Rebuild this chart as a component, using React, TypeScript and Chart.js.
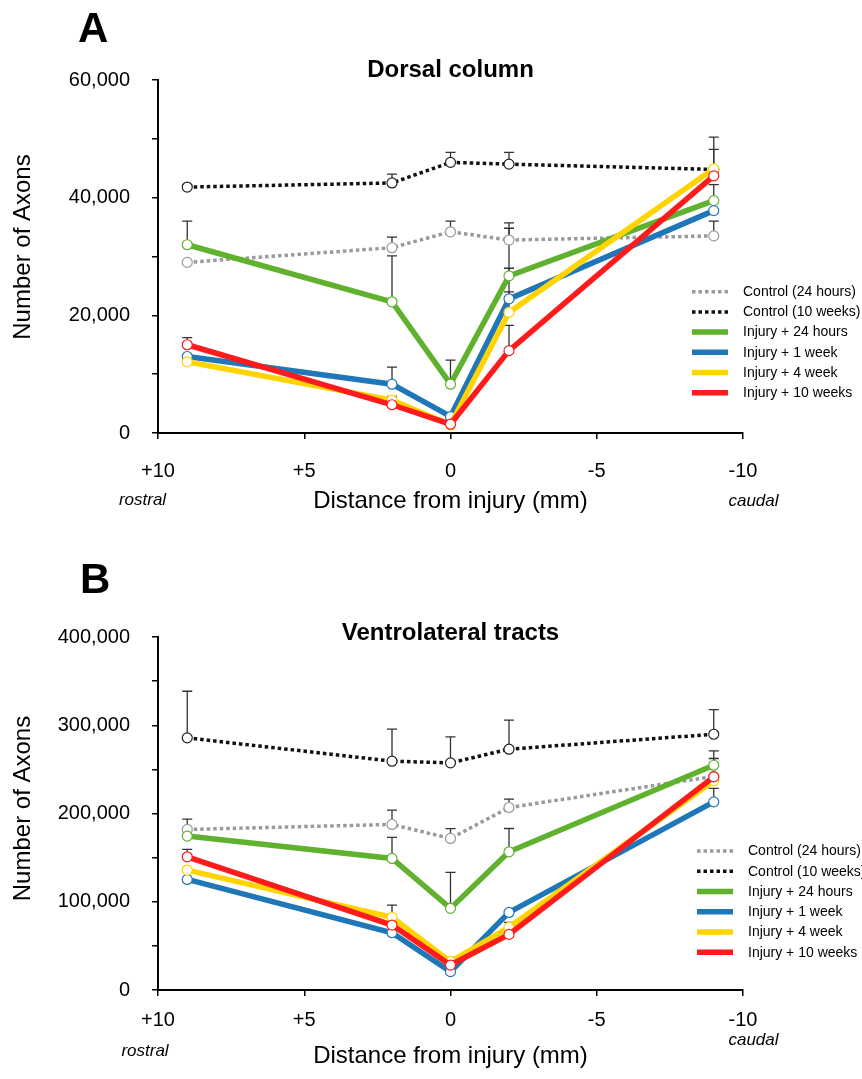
import React, { useEffect, useRef } from 'react';
import { Chart, registerables } from 'chart.js';

Chart.register(...registerables);

// ---------- data ----------
const distances = [9, 2, 0, -2, -9];
const seriesLabels = [
  'Control (24 hours)',
  'Control (10 weeks)',
  'Injury + 24 hours',
  'Injury + 1 week',
  'Injury + 4 week',
  'Injury + 10 weeks',
];
const xTickValues = [10, 5, 0, -5, -10];

// Panel A – Dorsal column (means)
const ctrl24A = [29000, 31500, 34200, 32800, 33500];
const ctrl10A = [41800, 42500, 46000, 45700, 44800];
const inj24hA = [32000, 22300, 8300, 26700, 39500];
const inj1wA = [13000, 8300, 2800, 22800, 37800];
const inj4wA = [12100, 5600, 1400, 20500, 44900];
const inj10wA = [15000, 4800, 1500, 14000, 43700];
// Panel A – SEM (upper error bars)
const ctrl24ErrA = [null, 1800, 1800, 2900, 2500];
const ctrl10ErrA = [400, 1500, 1700, 2000, 3400];
const inj24hErrA = [4000, 7800, 4100, 8100, 2700];
const inj1wErrA = [null, 2900, null, 5200, null];
const inj4wErrA = [null, 600, null, 3500, 5400];
const inj10wErrA = [1200, null, null, 4300, null];

// Panel B – Ventrolateral tracts (means)
const ctrl24B = [181900, 187600, 171700, 206800, 242000];
const ctrl10B = [285700, 259300, 257400, 272900, 289800];
const inj24hB = [174400, 149100, 92500, 156600, 254700];
const inj1wB = [125300, 64900, 20800, 87900, 213200];
const inj4wB = [135900, 82300, 32100, 71000, 237000];
const inj10wB = [150900, 73600, 28300, 63000, 241500];
// Panel B – SEM (upper error bars)
const ctrl24ErrB = [11700, 16200, 11200, 9500, 20300];
const ctrl10ErrB = [52800, 36200, 29400, 32800, 28000];
const inj24hErrB = [null, 23800, 40700, 26400, 16200];
const inj1wErrB = [null, null, null, null, 15200];
const inj4wErrB = [null, 13900, 4900, 5600, null];
const inj10wErrB = [8400, null, null, null, null];

// ---------- styles ----------
const FONT = "'Liberation Sans', Arial, Helvetica, sans-serif";
const seriesColors = ['#9a9a9a', '#111111', '#5fb12e', '#1f77b8', '#ffd400', '#ff1b1b'];
const seriesWidths = [3.5, 3.5, 5.5, 5.5, 5.5, 5.5];
const seriesDashes = [[3.5, 3], [3.5, 3], [], [], [], []];
const drawOrder = [6, 5, 4, 3, 2, 1];

type PanelCfg = {
  letter: string;
  title: string;
  height: number;
  padTop: number;
  xAxisH: number;
  yMax: number;
  yStep: number;
  yLabelStep: number;
  means: number[][];
  errs: (number | null)[][];
  xTickPad: number;
  xTitlePadBottom: number;
  letterX: number;
  letterBase: number;
  titleBase: number;
  yTitleX: number;
  yTitleShift: number;
  rostral: [number, number];
  caudal: [number, number];
  legend: { x1: number; x2: number; tx: number; y0: number; dy: number };
};

const panelA: PanelCfg = {
  letter: 'A',
  title: 'Dorsal column',
  height: 540,
  padTop: 80,
  xAxisH: 107,
  yMax: 60000,
  yStep: 10000,
  yLabelStep: 20000,
  means: [ctrl24A, ctrl10A, inj24hA, inj1wA, inj4wA, inj10wA],
  errs: [ctrl24ErrA, ctrl10ErrA, inj24hErrA, inj1wErrA, inj4wErrA, inj10wErrA],
  xTickPad: 20.5,
  xTitlePadBottom: 24.6,
  letterX: 78,
  letterBase: 42,
  titleBase: 76.5,
  yTitleX: 23,
  yTitleShift: -9.5,
  rostral: [142.5, 505],
  caudal: [753.5, 506],
  legend: { x1: 692, x2: 728, tx: 743, y0: 291.7, dy: 20.2 },
};

const panelB: PanelCfg = {
  letter: 'B',
  title: 'Ventrolateral tracts',
  height: 539,
  padTop: 97,
  xAxisH: 89,
  yMax: 400000,
  yStep: 50000,
  yLabelStep: 100000,
  means: [ctrl24B, ctrl10B, inj24hB, inj1wB, inj4wB, inj10wB],
  errs: [ctrl24ErrB, ctrl10ErrB, inj24hErrB, inj1wErrB, inj4wErrB, inj10wErrB],
  xTickPad: 12,
  xTitlePadBottom: 8.6,
  letterX: 80,
  letterBase: 53,
  titleBase: 100,
  yTitleX: 23,
  yTitleShift: -5,
  rostral: [145, 516],
  caudal: [753.5, 505],
  legend: { x1: 697, x2: 733, tx: 748, y0: 311, dy: 20.25 },
};

function Panel({ cfg }: { cfg: PanelCfg }) {
  const ref = useRef<HTMLCanvasElement | null>(null);

  useEffect(() => {
    if (!ref.current) return;
    Chart.defaults.font.family = FONT;
    Chart.defaults.color = '#000';

    const errorBars = {
      id: 'errorBars' + cfg.letter,
      beforeDatasetsDraw(chart: any) {
        const { ctx } = chart;
        const xs = chart.scales.x;
        const ys = chart.scales.y;
        ctx.save();
        ctx.strokeStyle = '#333';
        ctx.lineWidth = 1.3;
        cfg.errs.forEach((errArr, i) => {
          errArr.forEach((e, j) => {
            if (e == null) return;
            const v = cfg.means[i][j];
            const px = xs.getPixelForValue(distances[j]);
            const y0 = ys.getPixelForValue(v);
            const y1 = ys.getPixelForValue(v + e);
            ctx.beginPath();
            ctx.moveTo(px, y0);
            ctx.lineTo(px, y1);
            ctx.moveTo(px - 5, y1);
            ctx.lineTo(px + 5, y1);
            ctx.stroke();
          });
        });
        ctx.restore();
      },
    };

    const annotations = {
      id: 'annot' + cfg.letter,
      afterDraw(chart: any) {
        const { ctx, chartArea } = chart;
        ctx.save();
        ctx.fillStyle = '#000';
        ctx.textBaseline = 'alphabetic';
        // panel letter
        ctx.textAlign = 'left';
        ctx.font = `bold 42px ${FONT}`;
        ctx.fillText(cfg.letter, cfg.letterX, cfg.letterBase);
        // panel title
        ctx.textAlign = 'center';
        ctx.font = `bold 24px ${FONT}`;
        ctx.fillText(cfg.title, (chartArea.left + chartArea.right) / 2, cfg.titleBase);
        // y axis title
        ctx.save();
        ctx.font = `24px ${FONT}`;
        ctx.textBaseline = 'middle';
        ctx.translate(cfg.yTitleX, (chartArea.top + chartArea.bottom) / 2 + cfg.yTitleShift);
        ctx.rotate(-Math.PI / 2);
        ctx.fillText('Number of Axons', 0, 0);
        ctx.restore();
        // rostral / caudal
        ctx.font = `italic 17px ${FONT}`;
        ctx.fillText('rostral', cfg.rostral[0], cfg.rostral[1]);
        ctx.fillText('caudal', cfg.caudal[0], cfg.caudal[1]);
        // legend
        const L = cfg.legend;
        ctx.font = `14px ${FONT}`;
        ctx.textAlign = 'left';
        ctx.textBaseline = 'middle';
        chart.data.datasets.forEach((ds: any, i: number) => {
          const y = L.y0 + i * L.dy;
          ctx.save();
          ctx.strokeStyle = ds.borderColor;
          ctx.lineWidth = ds.borderWidth;
          ctx.setLineDash(ds.borderDash || []);
          ctx.beginPath();
          ctx.moveTo(L.x1, y);
          ctx.lineTo(L.x2, y);
          ctx.stroke();
          ctx.restore();
          ctx.fillStyle = '#000';
          ctx.fillText(ds.label, L.tx, y + 0.5);
        });
        ctx.restore();
      },
    };

    const datasets = seriesLabels.map((label, i) => ({
      label,
      data: distances.map((d, j) => ({ x: d, y: cfg.means[i][j] })),
      borderColor: seriesColors[i],
      borderWidth: seriesWidths[i],
      borderDash: seriesDashes[i],
      borderCapStyle: 'butt',
      pointRadius: 5,
      pointBorderWidth: 1.2,
      pointBackgroundColor: '#ffffff',
      pointBorderColor: i === 1 ? '#222' : seriesColors[i],
      tension: 0,
      order: drawOrder[i],
      fill: false,
    }));

    const chart = new Chart(ref.current, {
      type: 'line',
      data: { datasets } as any,
      options: {
        responsive: false,
        animation: false,
        events: [],
        layout: { padding: { top: cfg.padTop, right: 119, bottom: 0, left: 0 } },
        plugins: { legend: { display: false }, tooltip: { enabled: false }, title: { display: false } },
        scales: {
          x: {
            type: 'linear',
            position: 'bottom',
            min: -10,
            max: 10,
            reverse: true,
            afterFit: (s: any) => {
              s.height = cfg.xAxisH;
            },
            afterBuildTicks: (s: any) => {
              s.ticks = xTickValues.map((v) => ({ value: v }));
            },
            ticks: {
              stepSize: 5,
              padding: cfg.xTickPad,
              maxRotation: 0,
              autoSkip: false,
              font: { size: 20, family: FONT },
              color: '#000',
              callback: (v: any) => (Number(v) > 0 ? '+' + v : String(v)),
            },
            grid: { drawOnChartArea: false, drawTicks: true, tickLength: 6, color: '#000', lineWidth: 1.5 },
            border: { display: true, color: '#000', width: 2 },
            title: {
              display: true,
              text: 'Distance from injury (mm)',
              font: { size: 24, family: FONT },
              color: '#000',
              padding: { top: 0, bottom: cfg.xTitlePadBottom },
            },
          },
          y: {
            type: 'linear',
            min: 0,
            max: cfg.yMax,
            afterFit: (s: any) => {
              s.width = 158;
            },
            ticks: {
              stepSize: cfg.yStep,
              padding: 22,
              font: { size: 20, family: FONT },
              color: '#000',
              callback: (v: any) =>
                Number(v) % cfg.yLabelStep === 0 ? Number(v).toLocaleString('en-US') : '',
            },
            grid: { drawOnChartArea: false, drawTicks: true, tickLength: 6, color: '#000', lineWidth: 1.5 },
            border: { display: true, color: '#000', width: 2 },
            title: { display: false },
          },
        },
      } as any,
      plugins: [errorBars, annotations],
    });

    return () => chart.destroy();
  }, [cfg]);

  return <canvas ref={ref} width={862} height={cfg.height} style={{ display: 'block', width: 862, height: cfg.height }} />;
}

export default function App() {
  return (
    <div style={{ position: 'absolute', left: 0, top: 0, width: 862, height: 1079, background: '#fff', overflow: 'hidden' }}>
      <Panel cfg={panelA} />
      <Panel cfg={panelB} />
    </div>
  );
}
